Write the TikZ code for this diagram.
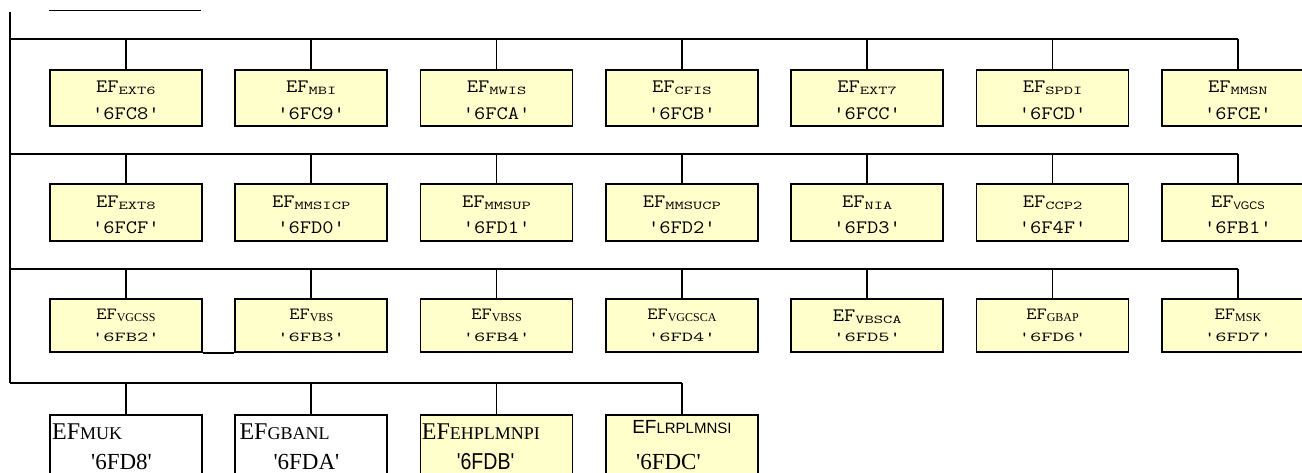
\documentclass[tikz,border=0pt]{standalone}
\usepackage{fontspec}
\usepackage{graphicx}
\setmainfont{Liberation Serif}
\newfontfamily\tms{Liberation Serif}[Ligatures=TeXOff]
\newfontfamily\arl{Liberation Sans}[Ligatures=TeXOff]
\usetikzlibrary{calc}
\definecolor{boxfill}{HTML}{FFFFCC}
\newcommand\fs[1]{\fontsize{#1pt}{#1pt}\selectfont}
\newcommand\cn[1]{\scalebox{1.15}[1]{\ttfamily\fs{19}#1}}
\newcommand\cs[1]{\scalebox{1.15}[0.72]{\ttfamily\fs{19}#1}}
\newcommand\msub[1]{\raisebox{-2pt}{\scalebox{1.5}[1]{\ttfamily\fs{12}#1}}}
\newcommand\tsub[1]{\raisebox{-2pt}{\tms\fs{12}#1}}
\newcommand\ssub[1]{\raisebox{-2pt}{\arl\fs{11}#1}}
\begin{document}
\begin{tikzpicture}[x=1pt,y=-1pt,
  box/.style={draw=black, fill=boxfill, minimum width=152pt, anchor=north west, inner sep=0pt, line width=1.8pt},
  wbox/.style={box, fill=white},
  conn/.style={draw=black, line width=1.8pt},
  lbl/.style={anchor=base, inner sep=0pt},
  lblw/.style={anchor=base west, inner sep=0pt}]
\clip (0,0) rectangle (1302,472);
% row 1
\foreach \i/\s/\c in {0/EXT6/6FC8,1/MBI/6FC9,2/MWIS/6FCA,3/CFIS/6FCB,4/EXT7/6FCC,5/SPDI/6FCD,6/MMSN/6FCE}{
  \pgfmathsetmacro\xx{49+185.33*\i}
  \node[box, minimum height=56pt] (a\i) at (\xx,69) {};
  \node[lbl] (a\i t) at ($(a\i.north)+(0,23)$) {\cn{EF}\msub{\s}};
  \node[lbl] (a\i c) at ($(a\i.north)+(0,50)$) {\cn{'\c'}};
}
% row 2
\foreach \i/\s/\c in {0/EXT8/6FCF,1/MMSICP/6FD0,2/MMSUP/6FD1,3/MMSUCP/6FD2,4/NIA/6FD3,5/CCP2/6F4F}{
  \pgfmathsetmacro\xx{49+185.33*\i}
  \node[box, minimum height=57pt] (b\i) at (\xx,183) {};
  \node[lbl] (b\i t) at ($(b\i.north)+(0,24)$) {\cn{EF}\msub{\s}};
  \node[lbl] (b\i c) at ($(b\i.north)+(0,50)$) {\cn{'\c'}};
}
\node[box, minimum height=57pt] (b6) at (1161,183) {};
\node[lbl] (b6t) at ($(b6.north)+(0,24)$) {\cn{EF}\ssub{VGCS}};
\node[lbl] (b6c) at ($(b6.north)+(0,50)$) {\cn{'6FB1'}};
% row 3
\foreach \i/\s/\c in {0/VGCSS/6FB2,1/VBS/6FB3,2/VBSS/6FB4,3/VGCSCA/6FD4,5/GBAP/6FD6,6/MSK/6FD7}{
  \pgfmathsetmacro\xx{49+185.33*\i}
  \node[box, minimum height=53pt] (c\i) at (\xx,298) {};
  \node[lbl] (c\i t) at ($(c\i.north)+(0,21)$) {\scalebox{1.05}[0.9]{\ttfamily\fs{19}EF}\tsub{\s}};
  \node[lbl] (c\i c) at ($(c\i.north)+(0,43)$) {\cs{'\c'}};
}
\node[box, minimum height=53pt] (c4) at (790.33,298) {};
\node[lbl] (c4t) at ($(c4.north)+(0,23)$) {\cn{EF}\msub{VBSCA}};
\node[lbl] (c4c) at ($(c4.north)+(0,43)$) {\cs{'6FD5'}};
\draw[conn] (c0.south east) -- (c1.south west);
% row 4
\node[wbox, minimum height=90pt] (d0) at (49,414) {};
\node[lblw] (d0t) at ($(d0.north west)+(3,25)$) {\tms\fs{24}EF{\fs{18}MUK}};
\node[lblw] (d0c) at ($(d0.north west)+(42,55)$) {\tms\fs{23}'6FD8'};
\node[wbox, minimum height=90pt] (d1) at (234.33,414) {};
\node[lblw] (d1t) at ($(d1.north west)+(5,25)$) {\tms\fs{24}EF{\fs{18}GBANL}};
\node[lblw] (d1c) at ($(d1.north west)+(39,55)$) {\tms\fs{23}'6FDA'};
\node[box, minimum height=90pt] (d2) at (419.67,414) {};
\node[lblw] (d2t) at ($(d2.north west)+(2,25)$) {\tms\fs{24}EF{\fs{18}EHPLMNPI}};
\node[lblw] (d2c) at ($(d2.north west)+(37,55)$) {\scalebox{0.85}[1]{\arl\fs{23}'6FDB'}};
\node[box, minimum height=90pt] (d3) at (605,414) {};
\node[lbl] (d3t) at ($(d3.north)+(0,19)$) {\arl\fs{19}EF{\fs{15}LRPLMNSI}};
\node[lblw] (d3c) at ($(d3.north west)+(31,55)$) {\tms\fs{23}'6FDC'};
% connectors
\coordinate (tl) at (49,10.5);
\coordinate (tr) at (201,10.5);
\coordinate (vt) at (10,12);
\coordinate (bus1) at (10,39);
\coordinate (bus2) at (10,154);
\coordinate (bus3) at (10,269);
\coordinate (bus4) at (10,383);
\draw[conn] (tl) -- (tr);
\draw[conn] (vt) -- (bus4);
\draw[conn] (bus1) -- (a6.north |- bus1);
\draw[conn] (bus2) -- (b6.north |- bus2);
\draw[conn] (bus3) -- (c6.north |- bus3);
\draw[conn] (bus4) -- (d3.north |- bus4);
\foreach \i in {0,...,6}{
  \draw[conn] (a\i.north) -- (a\i.north |- bus1);
  \draw[conn] (b\i.north) -- (b\i.north |- bus2);
  \draw[conn] (c\i.north) -- (c\i.north |- bus3);
}
\foreach \i in {0,...,3}{
  \draw[conn] (d\i.north) -- (d\i.north |- bus4);
}
\end{tikzpicture}
\end{document}
